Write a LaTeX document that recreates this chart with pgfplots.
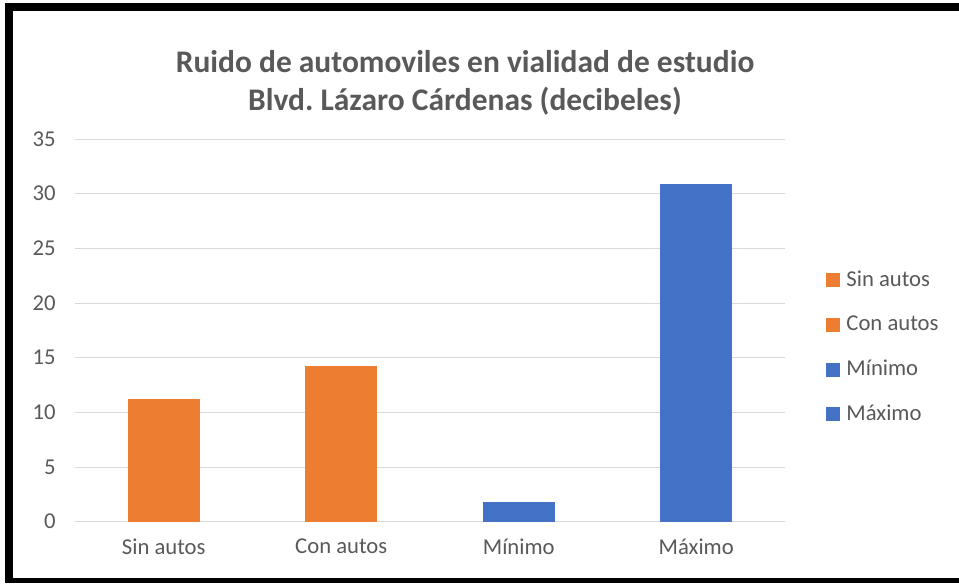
\documentclass[border=0pt]{standalone}
\usepackage{pgfplots}
\pgfplotsset{compat=1.18}
\usepackage{fontspec}
\setmainfont{Carlito}
\frenchspacing
\definecolor{orng}{HTML}{ED7D31}
\definecolor{blu}{HTML}{4472C4}
\definecolor{txt}{HTML}{595959}
\definecolor{grd}{HTML}{D9D9D9}
\begin{document}
\begin{tikzpicture}[x=0.75pt,y=0.75pt]
\fill[white] (0,0) rectangle (959,583);
\fill[black] (5,5) rectangle (13,580);
\fill[black] (5,572) rectangle (959,580);
\fill[black] (5,0) rectangle (959,5);
\node[font=\bfseries\fontsize{23.6}{28.2}\selectfont, text=txt, align=center] at (465,500) {Ruido de automoviles en vialidad de estudio\\Blvd.\ Lázaro Cárdenas (decibeles)};
\begin{axis}[
  at={(56.25pt,45.98pt)}, anchor=south west,
  scale only axis, width=532.5pt, height=287pt,
  ymin=0, ymax=35, ytick={0,5,...,35},
  xmin=-0.5, xmax=3.5, xtick={0,1,2,3},
  xticklabels={Sin autos, Con autos, Mínimo, Máximo},
  /pgf/number format/assume math mode=true,
  ymajorgrids, grid style={grd, line width=0.75pt},
  axis line style={draw=none},
  major tick length=0pt,
  tick label style={text=txt, font=\fontsize{17}{20}\selectfont},
  xticklabel style={yshift=-9pt},
  yticklabel style={xshift=-11pt},
  legend style={at={(1.058,0.658)}, anchor=north west, draw=none, fill=none,
    inner sep=0pt, row sep=18.5pt,
    font=\fontsize{17}{20}\selectfont, text=txt,
    nodes={text height=12pt, text depth=3pt, inner sep=0pt}},
  legend cell align=left,
]
\addplot[ybar, bar width=54pt, bar shift=0pt, fill=orng, draw=none,
  legend image code/.code={\fill[orng] (0pt,-5.25pt) rectangle (10.5pt,5.25pt); \path (15pt,0pt);}]
  coordinates {(0,11.2)};
\addlegendentry{Sin autos}
\addplot[ybar, bar width=54pt, bar shift=0pt, fill=orng, draw=none,
  legend image code/.code={\fill[orng] (0pt,-5.25pt) rectangle (10.5pt,5.25pt); \path (15pt,0pt);}]
  coordinates {(1,14.2)};
\addlegendentry{Con autos}
\addplot[ybar, bar width=54pt, bar shift=0pt, fill=blu, draw=none,
  legend image code/.code={\fill[blu] (0pt,-5.25pt) rectangle (10.5pt,5.25pt); \path (15pt,0pt);}]
  coordinates {(2,1.83)};
\addlegendentry{Mínimo}
\addplot[ybar, bar width=54pt, bar shift=0pt, fill=blu, draw=none,
  legend image code/.code={\fill[blu] (0pt,-5.25pt) rectangle (10.5pt,5.25pt); \path (15pt,0pt);}]
  coordinates {(3,30.85)};
\addlegendentry{Máximo}
\end{axis}
\end{tikzpicture}
\end{document}
